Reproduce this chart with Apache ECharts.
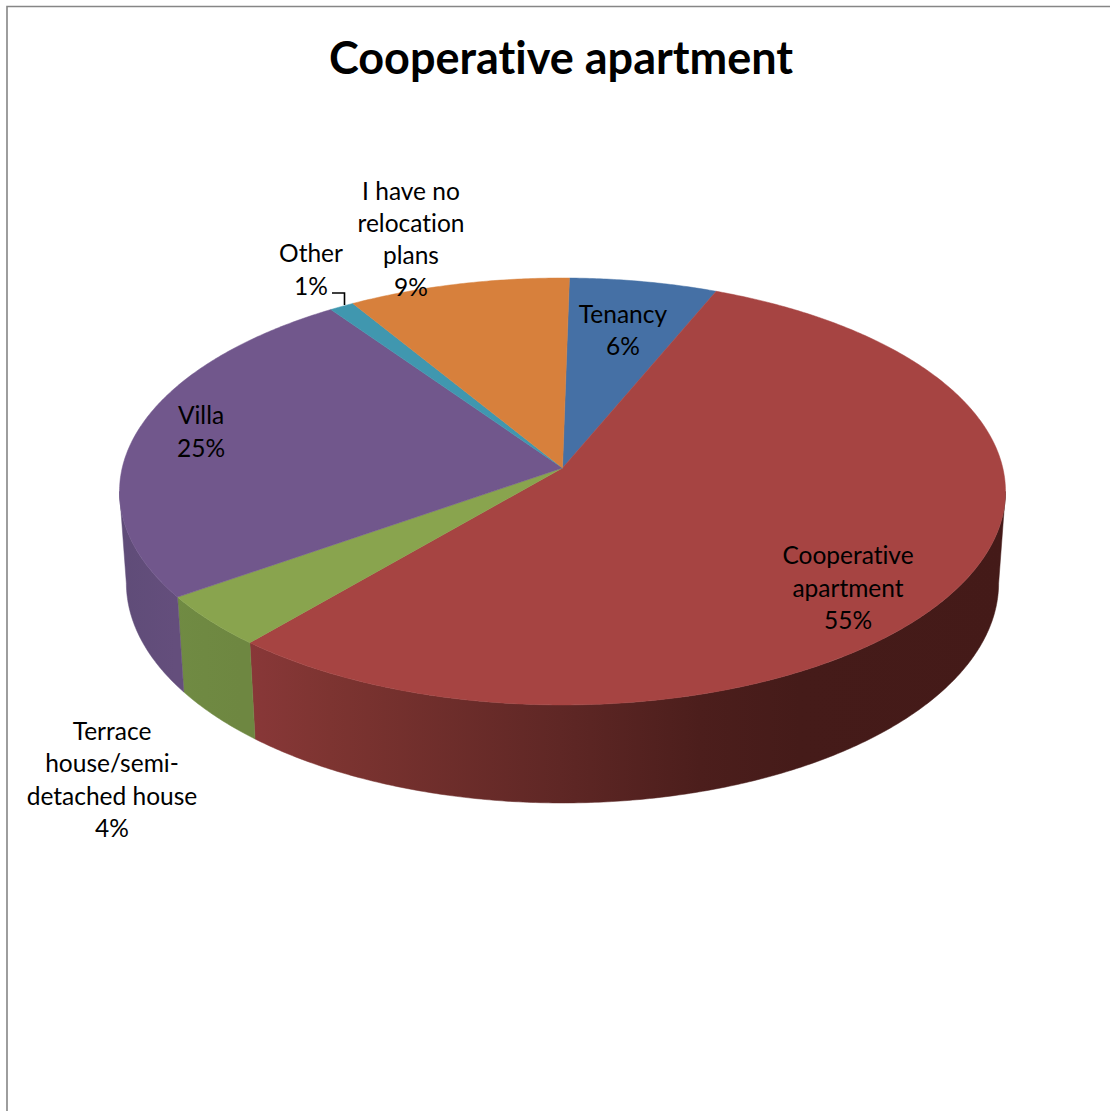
<!DOCTYPE html>
<html>
<head>
<meta charset="utf-8">
<title>Cooperative apartment</title>
<style>
html,body{margin:0;padding:0;background:#fff}
#chart{width:1110px;height:1111px}
#chart text{font-variant-ligatures:none !important}
</style>
<script src="https://cdn.jsdelivr.net/npm/echarts@6/dist/echarts.min.js"></script>
</head>
<body>
<div id="chart"></div>
<script>
// Survey answers, in clockwise order from twelve o'clock
const categories = ['Tenancy', 'Cooperative apartment', 'Terrace house/semi-detached house', 'Villa', 'Other', 'I have no relocation plans'];
const shares = [6, 55, 4, 25, 1, 9];

// Label text as it wraps on the page
const wrappedNames = ['Tenancy', 'Cooperative\napartment', 'Terrace\nhouse/semi-\ndetached house', 'Villa', 'Other', 'I have no\nrelocation\nplans'];
const labelCentres = [[623, 329.5], [848, 587], [112, 779], [201, 431], [311, 269], [411, 238.5]];

// Slice colours: top face and the shaded wall stops
const topColors = ['#4570a5', '#a64442', '#89a44e', '#71578c', '#4097af', '#d7803c'];
const wallStops = [
  null,
  [[240, '#8a3839'], [330, '#7d3431'], [560, '#5f2725'], [700, '#4c1e1c'], [800, '#451b19'], [1010, '#441a18']],
  [[170, '#708b43'], [240, '#6e8741']],
  [[120, '#5f4c78'], [175, '#644e7c']],
  null,
  null
];

// Perspective projection of the unit disc onto the page
const view = { cx: 562.5, k: 440.3, a: 159.4, b: 468, c: -0.11, depthD: 0.0155, depthE: 99.7 };
const FIRST_SLICE_ANGLE = 1.0 * Math.PI / 180;
function project(theta, lower) {
  const u = Math.sin(theta), v = -Math.cos(theta);
  const den = 1 + view.c * v + (lower ? view.depthD : 0);
  return [view.cx + view.k * u / den, (view.a * v + view.b + (lower ? view.depthE : 0)) / den];
}
const apex = [view.cx, view.b];
const WALL_FROM = 96.3 * Math.PI / 180, WALL_TO = 263.7 * Math.PI / 180, STEP = Math.PI / 360;
const total = shares.reduce((s, x) => s + x, 0);

function sweep(from, to, lower) {
  const pts = [];
  const n = Math.max(2, Math.ceil((to - from) / STEP));
  for (let i = 0; i <= n; i++) pts.push(project(from + (to - from) * i / n, lower));
  return pts;
}
function sliceAngles(index) {
  let before = 0;
  for (let i = 0; i < index; i++) before += shares[i];
  return [FIRST_SLICE_ANGLE + before / total * 2 * Math.PI, FIRST_SLICE_ANGLE + (before + shares[index]) / total * 2 * Math.PI];
}

function renderWall(params) {
  const i = params.dataIndex, stops = wallStops[i];
  const [s, e] = sliceAngles(i);
  const from = Math.max(s, WALL_FROM), to = Math.min(e, WALL_TO);
  if (!stops || from >= to) return { type: 'group', children: [] };
  const x0 = stops[0][0], x1 = stops[stops.length - 1][0];
  const fill = {
    type: 'linear', global: true, x: x0, y: 0, x2: x1, y2: 0,
    colorStops: stops.map(p => ({ offset: (p[0] - x0) / (x1 - x0), color: p[1] }))
  };
  return {
    type: 'polygon',
    shape: { points: sweep(from, to, false).concat(sweep(from, to, true).reverse()) },
    style: { fill: fill, stroke: fill, lineWidth: 0.5 }
  };
}
function renderTop(params) {
  const i = params.dataIndex;
  const [s, e] = sliceAngles(i);
  return {
    type: 'polygon',
    shape: { points: [apex].concat(sweep(s, e, false)) },
    style: { fill: topColors[i], stroke: topColors[i], lineWidth: 0.5 }
  };
}
function renderLabel(params) {
  const i = params.dataIndex;
  return {
    type: 'text',
    style: {
      x: labelCentres[i][0], y: labelCentres[i][1],
      text: wrappedNames[i] + '\n' + shares[i] + '%',
      fill: '#000', font: '24.5px Lato, Carlito, sans-serif',
      align: 'center', verticalAlign: 'middle', lineHeight: 32.3
    }
  };
}

const seriesData = categories.map((name, i) => ({ name: name, value: shares[i] }));
const chart = echarts.init(document.getElementById('chart'), null, { renderer: 'svg' });
chart.setOption({
  animation: false,
  backgroundColor: '#fff',
  title: {
    text: 'Cooperative apartment', left: 556, top: 29, textAlign: 'center',
    textStyle: { fontFamily: 'Lato, Carlito, sans-serif', fontWeight: 'bold', fontSize: 45, color: '#000' }
  },
  graphic: [
    { type: 'polyline', z: 1, shape: { points: [[7, 1111], [7, 6.5], [1110, 6.5]] }, style: { stroke: '#868686', lineWidth: 1.6, fill: null } },
    { type: 'polyline', z: 20, shape: { points: [[332, 293], [344.5, 293], [344.5, 305]] }, style: { stroke: '#000', lineWidth: 1.6, fill: null } }
  ],
  series: [
    { type: 'custom', name: 'Walls', coordinateSystem: 'none', renderItem: renderWall, data: seriesData, z: 2, silent: true },
    { type: 'custom', name: 'Tops', coordinateSystem: 'none', renderItem: renderTop, data: seriesData, z: 3, silent: true },
    { type: 'custom', name: 'Labels', coordinateSystem: 'none', renderItem: renderLabel, data: seriesData, z: 4, silent: true }
  ]
});
</script>
</body>
</html>
